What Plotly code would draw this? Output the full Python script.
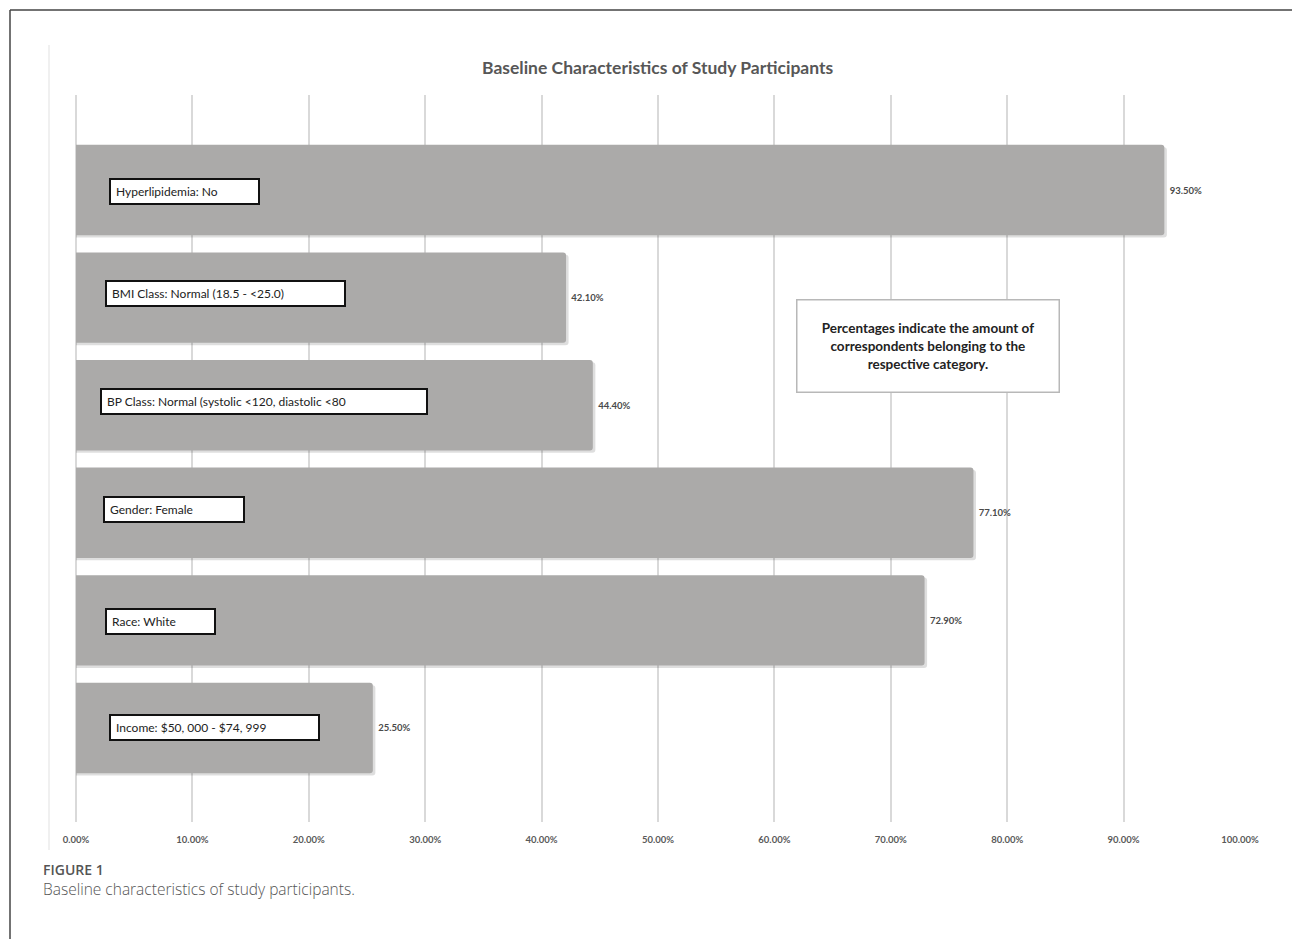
import plotly.graph_objects as go

# ---- data ----
categories = [
    "Hyperlipidemia: No",
    "BMI Class: Normal (18.5 - <25.0)",
    "BP Class: Normal (systolic <120, diastolic <80",
    "Gender: Female",
    "Race: White",
    "Income: $50, 000 - $74, 999",
]
percentages = [93.5, 42.1, 44.4, 77.1, 72.9, 25.5]
x_tick_values = [0, 10, 20, 30, 40, 50, 60, 70, 80, 90, 100]
x_tick_labels = ["0.00%", "10.00%", "20.00%", "30.00%", "40.00%", "50.00%",
                 "60.00%", "70.00%", "80.00%", "90.00%", "100.00%"]

# ---- layout geometry (pixels) ----
W, H = 1292, 939
PL, PR, PT, PB = 76, 1240, 95, 822


def px_x(px):
    return (px - PL) / (PR - PL)


def px_y(py):
    return (PB - py) / (PB - PT)


# label box positions: (left px, width px, y shift px)
label_boxes = [(109, 151, -1), (105, 241, 4), (100, 328, 4), (103, 142, 3), (105, 111, -1), (109, 211, 0)]

fig = go.Figure()
# soft drop shadow under bars
fig.add_trace(go.Bar(
    y=categories,
    x=[v + 0.22 for v in percentages],
    orientation="h",
    width=0.84, offset=-0.42 + 0.022,
    marker=dict(color="rgba(0,0,0,0.13)", line=dict(width=0), cornerradius=3),
    hoverinfo="skip",
))
fig.add_trace(go.Bar(
    y=categories,
    x=percentages,
    orientation="h",
    width=0.84, offset=-0.42,
    marker=dict(color="#abaaa9", line=dict(width=0), cornerradius=3),
    text=[f"<b> {v:.2f}%</b>" for v in percentages],
    textposition="outside",
    textfont=dict(family="Lato", size=9.5, color="#4a4a4a"),
    cliponaxis=False,
    hoverinfo="skip",
))

annotations = []
for cat, (lx, bw, ys) in zip(categories, label_boxes):
    annotations.append(dict(
        text=cat, xref="paper", x=px_x(lx), xanchor="left",
        yref="y", y=cat, yanchor="middle", yshift=ys,
        showarrow=False, align="left",
        width=bw - 14, height=13,
        bgcolor="white", bordercolor="#111111", borderwidth=2, borderpad=5,
        font=dict(family="Lato", size=12, color="#222222"),
    ))

# info box
annotations.append(dict(
    text="<b>Percentages indicate the amount of<br>correspondents belonging to the<br>respective category.</b>",
    xref="paper", yref="paper", x=px_x(927.5), y=px_y(345.5),
    xanchor="center", yanchor="middle", showarrow=False, align="center",
    width=261, height=91,
    bgcolor="white", bordercolor="#b8b8b8", borderwidth=1.5, borderpad=0,
    font=dict(family="Lato", size=13.5, color="#222222"),
))

# chart title
annotations.append(dict(
    text="<b>Baseline Characteristics of Study Participants</b>",
    xref="paper", yref="paper", x=px_x(657), y=px_y(68),
    xanchor="center", yanchor="middle", showarrow=False,
    font=dict(family="Lato", size=17.5, color="#575757"),
))

# figure caption
annotations.append(dict(
    text="FIGURE 1", xref="paper", yref="paper",
    x=px_x(41), y=px_y(869), xanchor="left", yanchor="middle", showarrow=False,
    font=dict(family="Open Sans", size=14, color="#555555", weight=600),
))
annotations.append(dict(
    text="Baseline characteristics of study participants.", xref="paper", yref="paper",
    x=px_x(41), y=px_y(889), xanchor="left", yanchor="middle", showarrow=False,
    font=dict(family="Open Sans", size=15.5, color="#555555", weight=300),
))

shapes = [
    # outer frame
    dict(type="line", xref="paper", yref="paper", x0=px_x(10), x1=px_x(10),
         y0=px_y(10), y1=px_y(945), line=dict(color="#444444", width=1.5)),
    dict(type="line", xref="paper", yref="paper", x0=px_x(10), x1=px_x(1300),
         y0=px_y(10), y1=px_y(10), line=dict(color="#444444", width=1.5)),
    # chart area left border
    dict(type="line", xref="paper", yref="paper", x0=px_x(49), x1=px_x(49),
         y0=px_y(45), y1=px_y(850), line=dict(color="#e6e6e6", width=1.2)),
]

fig.update_layout(
    width=W, height=H,
    margin=dict(l=PL, r=W - PR, t=PT, b=H - PB),
    paper_bgcolor="white", plot_bgcolor="white",
    showlegend=False, barmode="overlay",
    annotations=annotations,
    shapes=shapes,
    xaxis=dict(
        range=[0, 100], tickvals=x_tick_values,
        ticktext=[f"<b>{t}</b>" for t in x_tick_labels],
        showgrid=True, gridcolor="#d9d9d9", gridwidth=1.5,
        zeroline=True, zerolinecolor="#d9d9d9", zerolinewidth=1.5,
        showline=False, ticks="", ticklabelstandoff=10,
        tickfont=dict(family="Lato", size=9.5, color="#595959"),
    ),
    yaxis=dict(
        categoryorder="array", categoryarray=categories,
        range=[5.874, -0.883], showticklabels=False, showgrid=False,
        zeroline=False, showline=False, ticks="",
    ),
)

fig.write_html("out.html")
